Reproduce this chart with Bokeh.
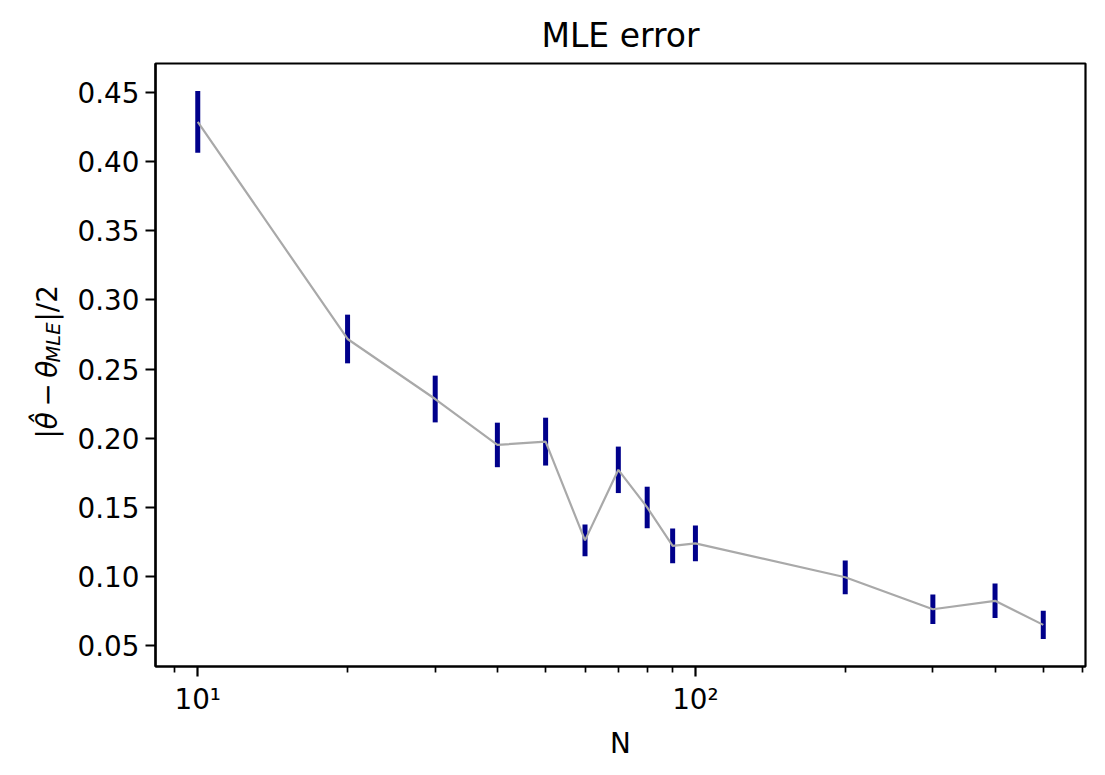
import numpy as np
from bokeh.plotting import figure
from bokeh.layouts import row
from bokeh.models import ColumnDataSource, FixedTicker, Range1d, Label, PrintfTickFormatter
from bokeh.embed import file_html
from bokeh.resources import INLINE

# sample sizes and the error
n_values = [10, 20, 30, 40, 50, 60, 70, 80, 90, 100, 200, 300, 400, 500]
mle_error = [0.4288, 0.2718, 0.2284, 0.1952, 0.1976, 0.1262, 0.1772,
             0.1500, 0.1222, 0.1240, 0.0995, 0.0764, 0.0825, 0.0651]
error_std = [0.0224, 0.0176, 0.0169, 0.0161, 0.0173, 0.0114, 0.0168,
             0.0150, 0.0125, 0.0129, 0.0122, 0.0106, 0.0125, 0.0103]

y_ticks = [0.05, 0.10, 0.15, 0.20, 0.25, 0.30, 0.35, 0.40, 0.45]
x_major_ticks = [10, 100]
x_tick_labels = {10: "10¹", 100: "10²"}
x_minor_ticks = [9, 20, 30, 40, 50, 60, 70, 80, 90, 200, 300, 400, 500, 600]

FONT = "DejaVu Sans"
HEIGHT = 767
LABEL_W = 70

source = ColumnDataSource(data=dict(
    n=n_values,
    err=mle_error,
    lower=[m - s for m, s in zip(mle_error, error_std)],
    upper=[m + s for m, s in zip(mle_error, error_std)],
))

p = figure(width=1097 - LABEL_W, height=HEIGHT, x_axis_type="log",
           x_range=Range1d(8.224, 607.9), y_range=Range1d(0.035, 0.471),
           title="MLE error", output_backend="svg", toolbar_location=None,
           min_border_left=155 - LABEL_W, min_border_right=12,
           min_border_top=63, min_border_bottom=101, frame_align=False)

p.title.align = "center"
p.title.text_font = FONT
p.title.text_font_size = "33px"
p.title.text_font_style = "normal"
p.title.text_color = "black"
p.title.standoff = 18

p.grid.visible = False
p.outline_line_color = "black"
p.outline_line_width = 2.2
p.outline_line_alpha = 1.0

# error bars, then the connecting line on top
p.segment(x0="n", y0="lower", x1="n", y1="upper", source=source,
          line_color="#00008B", line_width=5)
p.line(x="n", y="err", source=source, line_color="#A9A9A9", line_width=2.2)

# x axis
xa = p.xaxis[0]
xa.ticker = FixedTicker(ticks=x_major_ticks, minor_ticks=x_minor_ticks)
xa.major_label_overrides = x_tick_labels
xa.axis_label = "N"
xa.axis_label_text_font = FONT
xa.axis_label_text_font_size = "27.8px"
xa.axis_label_text_font_style = "normal"
xa.axis_label_text_color = "black"

# y axis
ya = p.yaxis[0]
ya.ticker = FixedTicker(ticks=y_ticks)
ya.formatter = PrintfTickFormatter(format="%.2f")

for ax in (xa, ya):
    ax.axis_line_color = "black"
    ax.axis_line_width = 2.2
    ax.major_tick_in = 0
    ax.major_tick_out = 10
    ax.major_tick_line_width = 2.2
    ax.major_tick_line_color = "black"
    ax.minor_tick_in = 0
    ax.minor_tick_out = 6
    ax.minor_tick_line_width = 1.7
    ax.minor_tick_line_color = "black"
    ax.major_label_text_font = FONT
    ax.major_label_text_font_size = "27.8px"
    ax.major_label_text_color = "black"
    ax.major_label_standoff = 6

ya.minor_tick_out = 0
xa.axis_label_standoff = 8

# y axis label lives in a narrow blank panel left of the plot,
# built from rotated pieces: |θ̂ − θ, subscript MLE, |/2
lab = figure(width=LABEL_W, height=HEIGHT, x_range=Range1d(0, LABEL_W),
             y_range=Range1d(0, HEIGHT), output_backend="svg",
             toolbar_location=None, min_border=0, frame_align=False,
             x_axis_location=None, y_axis_location=None)
lab.grid.visible = False
lab.outline_line_color = None

label_parts = [
    ("|θ̂\u2009−\u2009θ", 47, 329, "27.8px", "italic"),
    ("MLE", 53, 405, "19.5px", "italic"),
    ("|/2", 47, 446, "27.8px", "normal"),
]
for text, lx, ly, size, style in label_parts:
    lab.add_layout(Label(x=lx, y=ly, text=text, angle=np.pi / 2,
                         text_align="left", text_baseline="middle",
                         text_font=FONT, text_font_size=size,
                         text_font_style=style, text_color="black"))

open("out.html", "w").write(file_html(row(lab, p), INLINE))
